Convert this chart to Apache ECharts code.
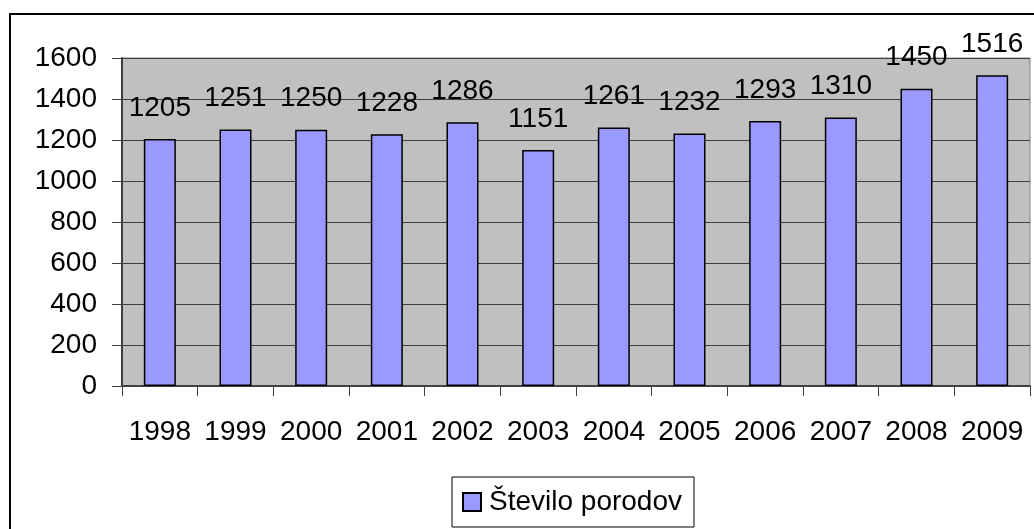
<!DOCTYPE html>
<html>
<head>
<meta charset="utf-8">
<style>
    html, body { margin: 0; padding: 0; background: #fff; }
    #chart { width: 1034px; height: 529px; }
</style>
<script src="https://cdn.jsdelivr.net/npm/echarts@6/dist/echarts.min.js"></script>
</head>
<body>
<div id="chart"></div>
<script>
// 类目（年份）
const years = ['1998', '1999', '2000', '2001', '2002', '2003', '2004', '2005', '2006', '2007', '2008', '2009'];
// 数据
const births = [1205, 1251, 1250, 1228, 1286, 1151, 1261, 1232, 1293, 1310, 1450, 1516];
const seriesName = 'Število porodov';

const font = 'Liberation Sans, Arial, sans-serif';

let chart = echarts.init(document.getElementById('chart'));

let option = {
    animation: false,
    backgroundColor: '#ffffff',
    textStyle: { fontFamily: font },
    // 外框
    graphic: [{
        type: 'rect',
        shape: { x: 10, y: 14, width: 1040, height: 540 },
        style: { fill: 'none', stroke: '#000', lineWidth: 2 },
        silent: true
    }],
    grid: {
        left: 122,
        right: 4,
        top: 58,
        bottom: 143,
        show: true,
        backgroundColor: '#c0c0c0',
        borderColor: '#808080',
        borderWidth: 1
    },
    legend: {
        left: 452,
        top: 477,
        padding: [11, 12, 11, 10],
        borderColor: '#000',
        borderWidth: 1,
        itemWidth: 18,
        itemHeight: 18,
        icon: 'rect',
        textStyle: { fontSize: 28, color: '#000', fontFamily: font, padding: [0, 0, 0, 3] },
        data: [seriesName]
    },
    xAxis: {
        type: 'category',
        data: years,
        boundaryGap: true,
        axisLine: { lineStyle: { color: '#404040', width: 2 } },
        axisTick: { show: true, length: 10, interval: 0, alignWithLabel: false, lineStyle: { color: '#404040' } },
        axisLabel: { fontSize: 28, color: '#000', margin: 32, interval: 0, fontFamily: font }
    },
    yAxis: {
        type: 'value',
        min: 0,
        max: 1600,
        interval: 200,
        axisLine: { show: true, lineStyle: { color: '#404040', width: 2 } },
        axisTick: { show: true, length: 10, lineStyle: { color: '#404040' } },
        axisLabel: {
            fontSize: 28, color: '#000', margin: 25, fontFamily: font,
            formatter: function (v) { return String(v); }
        },
        splitLine: { show: true, lineStyle: { color: '#404040', width: 1 } }
    },
    series: [{
        name: seriesName,
        type: 'bar',
        data: births,
        barWidth: 32,
        itemStyle: { color: '#9999ff', borderColor: '#000', borderWidth: 1.5 },
        label: {
            show: true,
            position: 'top',
            distance: 17,
            fontSize: 28,
            color: '#000',
            fontFamily: font
        }
    }]
};

chart.setOption(option);
</script>
</body>
</html>
